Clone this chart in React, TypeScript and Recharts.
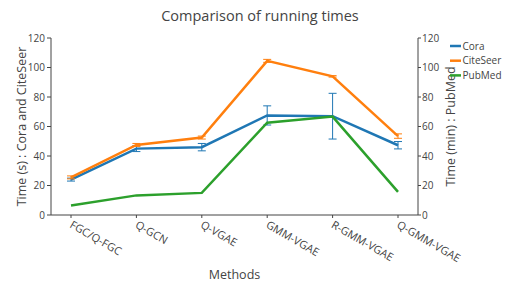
import { LineChart, Line, XAxis, YAxis, ErrorBar, Legend } from 'recharts';

const methods = ['FGC/Q-FGC', 'Q-GCN', 'Q-VGAE', 'GMM-VGAE', 'R-GMM-VGAE', 'Q-GMM-VGAE'];
const cora = [24, 45, 46, 67.5, 67, 47.3];
const coraErr = [1, 2, 2.5, 6.5, 15.5, 2.5];
const citeseer = [25.5, 47.5, 52.5, 104.5, 94, 53.5];
const citeseerErr = [1, 1, 1, 1, 0.5, 1.5];
const pubmed = [6.5, 13.3, 15, 62.6, 66.7, 15.7];
const yTicks = [0, 20, 40, 60, 80, 100, 120];
const seriesOrder = ['Cora', 'CiteSeer', 'PubMed'];

const data = methods.map((m, i) => ({
  method: m,
  cora: cora[i],
  coraErr: coraErr[i],
  citeseer: citeseer[i],
  citeseerErr: citeseerErr[i],
  pubmed: pubmed[i],
}));

const FONT = '"Open Sans", sans-serif';
const TEXT = '#444';

const MethodTick = (props: any) => {
  const { x, y, payload } = props;
  return (
    <text
      x={x - 2}
      y={y + 7}
      transform={`rotate(30, ${x - 2}, ${y + 7})`}
      textAnchor="start"
      fontSize={11}
      fill={TEXT}
      fontFamily={FONT}
    >
      {payload.value}
    </text>
  );
};

const LegendBox = (props: any) => {
  const items = [...(props.payload || [])].sort(
    (a: any, b: any) => seriesOrder.indexOf(a.value) - seriesOrder.indexOf(b.value)
  );
  return (
    <svg width={60} height={48}>
      {items.map((it: any, i: number) => (
        <g key={it.value} transform={`translate(0, ${i * 14.7 + 7})`}>
          <line x1={0} x2={11} y1={0} y2={0} stroke={it.color} strokeWidth={2.5} />
          <text x={12.5} y={3.5} fontSize={10} fill={TEXT} fontFamily={FONT}>
            {it.value}
          </text>
        </g>
      ))}
    </svg>
  );
};

export default function App() {
  return (
    <div style={{ position: 'absolute', left: 0, top: 0, width: 509, height: 283, background: '#fff' }}>
      <LineChart
        width={509}
        height={283}
        data={data}
        margin={{ top: 38, right: 0, bottom: 0, left: 0 }}
        style={{ fontFamily: FONT }}
      >
        <text x={260} y={21} textAnchor="middle" fontSize={14.5} fill={TEXT} fontFamily={FONT}>
          Comparison of running times
        </text>
        <XAxis
          dataKey="method"
          height={68}
          padding={{ left: 20, right: 20 }}
          stroke={TEXT}
          tickSize={3}
          tick={<MethodTick />}
          interval={0}
          label={{ value: 'Methods', position: 'insideBottom', offset: 4, fontSize: 12.5, fill: TEXT }}
        />
        <YAxis
          yAxisId="left"
          width={51}
          domain={[0, 120]}
          ticks={yTicks}
          stroke={TEXT}
          tickSize={4}
          tickMargin={2}
          tick={{ fontSize: 10, fill: TEXT }}
          label={{
            content: (p: any) => {
              const vb = p.viewBox;
              const cx = 21;
              const cy = vb.y + vb.height / 2;
              return (
                <text x={cx} y={cy} transform={`rotate(-90, ${cx}, ${cy})`} textAnchor="middle" dominantBaseline="central" fontSize={12.5} fill={TEXT} fontFamily={FONT}>
                  Time (s) : Cora and CiteSeer
                </text>
              );
            },
          }}
        />
        <YAxis
          yAxisId="right"
          orientation="right"
          width={91}
          domain={[0, 120]}
          ticks={yTicks}
          stroke={TEXT}
          tickSize={3}
          tickMargin={1}
          tick={{ fontSize: 10, fill: TEXT, textAnchor: 'start' }}
          label={{
            content: (p: any) => {
              const vb = p.viewBox;
              const cx = 450;
              const cy = vb.y + vb.height / 2;
              return (
                <text x={cx} y={cy} transform={`rotate(-90, ${cx}, ${cy})`} textAnchor="middle" dominantBaseline="central" fontSize={12.5} fill={TEXT} fontFamily={FONT}>
                  Time (min) : PubMed
                </text>
              );
            },
          }}
        />
        <Legend
          layout="vertical"
          align="center"
          verticalAlign="middle"
          content={<LegendBox />}
          wrapperStyle={{ left: 450, top: 39, width: 60 }}
        />
        <Line yAxisId="left" type="linear" dataKey="cora" name="Cora" stroke="#1f77b4" strokeWidth={2.5} dot={false} isAnimationActive={false}>
          <ErrorBar dataKey="coraErr" direction="y" width={4} strokeWidth={1} stroke="#1f77b4" />
        </Line>
        <Line yAxisId="left" type="linear" dataKey="citeseer" name="CiteSeer" stroke="#ff7f0e" strokeWidth={2.5} dot={false} isAnimationActive={false}>
          <ErrorBar dataKey="citeseerErr" direction="y" width={4} strokeWidth={1} stroke="#ff7f0e" />
        </Line>
        <Line yAxisId="right" type="linear" dataKey="pubmed" name="PubMed" stroke="#2ca02c" strokeWidth={2.5} dot={false} isAnimationActive={false} />
      </LineChart>
    </div>
  );
}
